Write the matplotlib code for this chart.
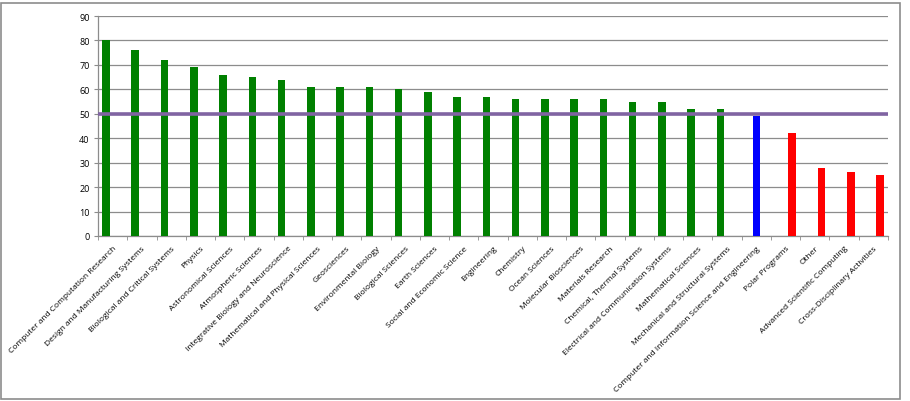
import matplotlib
matplotlib.use("Agg")
import matplotlib.pyplot as plt
import numpy as np
from matplotlib.patches import Rectangle

categories = [
    "Computer and Computation Research",
    "Design and Manufacturing Systems",
    "Biological and Critical Systems",
    "Physics",
    "Astronomical Sciences",
    "Atmospheric Sciences",
    "Integrative Biology and Neuroscience",
    "Mathematical and Physical Sciences",
    "Geosciences",
    "Environmental Biology",
    "Biological Sciences",
    "Earth Sciences",
    "Social and Economic Science",
    "Engineering",
    "Chemistry",
    "Ocean Sciences",
    "Molecular Biosciences",
    "Materials Research",
    "Chemical, Thermal Systems",
    "Electrical and Communication Systems",
    "Mathematical Sciences",
    "Mechanical and Structural Systems",
    "Computer and Information Science and Engineering",
    "Polar Programs",
    "Other",
    "Advanced Scientific Computing",
    "Cross-Disciplinary Activities",
]
values = [80, 76, 72, 69, 66, 65, 64, 61, 61, 61, 60, 59, 57, 57, 56, 56,
          56, 56, 55, 55, 52, 52, 49, 42, 28, 26, 25]
reference_line = 50
highlight = "Computer and Information Science and Engineering"

# three clustered series, like the Excel original: above / highlight / below
x = np.arange(len(categories))
vals = np.array(values, dtype=float)
is_hl = np.array([c == highlight for c in categories])
above = np.where(~is_hl & (vals >= reference_line), vals, 0)
mid = np.where(is_hl, vals, 0)
below = np.where(~is_hl & (vals < reference_line), vals, 0)

plt.rcParams["font.family"] = ["Open Sans", "DejaVu Sans"]

fig = plt.figure(figsize=(9.10, 4.02), dpi=100)
ax = fig.add_axes([98 / 910, 1 - 237 / 402, 790 / 910, 220 / 402])

w = 0.26
shift = 0.226
ax.bar(x - shift, above, width=w, color="#008000", zorder=3)
ax.bar(x, mid, width=w, color="#0000ff", zorder=3)
ax.bar(x + shift, below, width=w, color="#ff0000", zorder=3)
ax.axhline(reference_line, color="#8064a2", linewidth=2.6, zorder=4)

ax.set_xlim(-0.5, len(categories) - 0.5)
ax.set_ylim(0, 90)
ax.set_yticks(range(0, 91, 10))
ax.yaxis.grid(True, color="#8c8c8c", linewidth=0.9, zorder=0)

ax.set_xticks(x)
ax.set_xticklabels(categories, rotation=45, ha="right",
                   rotation_mode="anchor", fontsize=6)
ax.set_xticks(np.arange(-0.5, len(categories)), minor=True)
ax.tick_params(axis="x", which="major", length=0, pad=6)
ax.tick_params(axis="x", which="minor", length=3, color="#8c8c8c")
ax.tick_params(axis="y", length=3, color="#8c8c8c", labelsize=6.5, pad=3)

for side in ["top", "right"]:
    ax.spines[side].set_visible(False)
for side in ["left", "bottom"]:
    ax.spines[side].set_color("#8c8c8c")
    ax.spines[side].set_linewidth(0.9)

# chart area border
fig.patches.append(Rectangle((0.5 / 910, 2 / 402), 899.5 / 910, 396 / 402,
                             transform=fig.transFigure, fill=False,
                             edgecolor="#8c8c8c", linewidth=1.2))

fig.savefig("out.png", dpi=100)
